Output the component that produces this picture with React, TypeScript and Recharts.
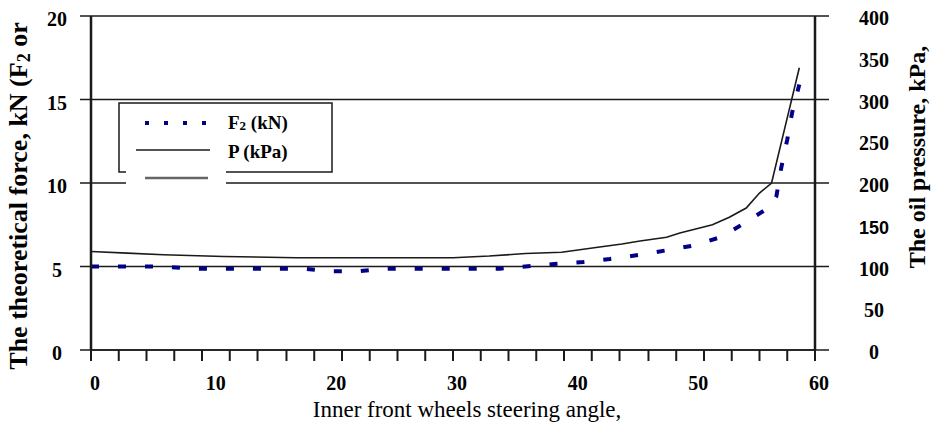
import React from 'react';
import { ComposedChart, Line, XAxis, YAxis, CartesianGrid, Legend } from 'recharts';

// Inner front wheel steering angle (deg) and theoretical force F2 (kN)
const f2Angle = [0, 6, 8.4, 17.5, 20, 22.3, 24.5, 33.9, 36, 38.4, 40.8, 43, 45.5, 47.7, 49.8, 52.3, 54.2, 56.3, 56.8, 57.2, 57.7, 58.1, 58.7];
const f2Force = [5.0, 5.0, 4.87, 4.87, 4.72, 4.72, 4.87, 4.87, 5.0, 5.15, 5.27, 5.45, 5.7, 5.97, 6.24, 6.78, 7.62, 8.58, 9.2, 10.9, 12.6, 14.2, 15.9];

// Steering angle (deg) and oil pressure P (kPa)
const pAngle = [0, 3, 6, 11, 17, 30, 33, 36, 39, 42, 44, 45.5, 47.7, 48.8, 51.5, 52.9, 54.3, 55.4, 56.4, 57.5, 58.7];
const pPressure = [118, 116, 114, 112, 110.5, 110.5, 112.5, 115.5, 117, 123, 127, 130.5, 135, 140, 150, 159, 170, 188, 200, 266, 338];

const xMinorTicks = [0, 2.3, 4.6, 6.9, 9.2, 11.5, 13.8, 16.2, 18.5, 20.8, 23.1, 25.4, 27.7, 30, 32.3, 34.6, 36.9, 39.2, 41.5, 43.8, 46.2, 48.5, 50.8, 53.1, 55.4, 57.7, 60];
const xLabelTicks = [0, 10, 20, 30, 40, 50, 60];
const leftTicks = [0, 5, 10, 15, 20];
const rightTicks = [0, 50, 100, 150, 200, 250, 300, 350, 400];
const rightMajorTicks = [0, 100, 200, 300, 400];

const f2Data = f2Angle.map((a, i) => ({ angle: a, f2: f2Force[i] }));
const pData = pAngle.map((a, i) => ({ angle: a, p: pPressure[i] }));
const xAllTicks = Array.from(new Set([...xMinorTicks, ...xLabelTicks])).sort((a, b) => a - b);

const SERIF = '"Liberation Serif", "Times New Roman", serif';
const SANS = '"Liberation Sans", Arial, sans-serif';
const INK = '#1a1a1a';
const NAVY = '#000088';

const XTick = (props: any) => {
  const { x, y, payload } = props;
  const v = payload.value;
  return (
    <g>
      {xMinorTicks.includes(v) && (
        <line x1={x} y1={y} x2={x} y2={y + 11} stroke={INK} strokeWidth={2} />
      )}
      {xLabelTicks.includes(v) && (
        <text x={x + 4} y={y + 40} textAnchor="middle" fontFamily={SERIF} fontWeight="bold" fontSize={20} fill="#000">
          {v}
        </text>
      )}
    </g>
  );
};

const LeftTick = (props: any) => {
  const { x, y, payload } = props;
  return (
    <g>
      <line x1={x - 11} y1={y} x2={x} y2={y} stroke={INK} strokeWidth={1.5} />
      <text x={57} y={y + 10} textAnchor="middle" fontFamily={SERIF} fontWeight="bold" fontSize={20} fill="#000">
        {payload.value}
      </text>
    </g>
  );
};

const RightTick = (props: any) => {
  const { x, y, payload } = props;
  const v = payload.value;
  return (
    <g>
      {rightMajorTicks.includes(v) && (
        <line x1={x} y1={y} x2={x + 14} y2={y} stroke={INK} strokeWidth={1.5} />
      )}
      <text x={874} y={y + 9} textAnchor="middle" fontFamily={v === 150 ? SANS : SERIF} fontWeight="bold" fontSize={v === 150 ? 18 : 20} fill="#000">
        {v}
      </text>
    </g>
  );
};

const LeftTitle = () => (
  <text transform="translate(27,196) rotate(-90)" textAnchor="middle" fontFamily={SERIF} fontWeight="bold" fontSize={26} fill="#000">
    The theoretical force, kN (F
    <tspan fontSize={18} dy={3}>2</tspan>
    <tspan dy={-3}> or</tspan>
  </text>
);

const RightTitle = () => (
  <text transform="translate(925,157) rotate(-90)" textAnchor="middle" fontFamily={SERIF} fontWeight="bold" fontSize={24} fill="#000">
    The oil pressure, kPa,
  </text>
);

const XTitle = () => (
  <text x={467} y={417} textAnchor="middle" fontFamily={SERIF} fontSize={23} fill="#000">
    Inner front wheels steering angle,
  </text>
);

const LegendBox = () => (
  <svg width={222} height={90} style={{ display: 'block' }}>
    <rect x={1} y={1} width={213} height={69} fill="#fff" stroke={INK} strokeWidth={1.5} />
    <rect x={8} y={68} width={100} height={20} fill="#fff" />
    <line x1={27} y1={21} x2={90} y2={21} stroke={NAVY} strokeWidth={4} strokeDasharray="4 15" />
    <line x1={18} y1={48} x2={92} y2={48} stroke={INK} strokeWidth={1.5} />
    <line x1={27} y1={76} x2={90} y2={76} stroke="#666" strokeWidth={2.5} />
    <text x={110} y={27} fontFamily={SERIF} fontWeight="bold" fontSize={19} fill="#000">
      F<tspan fontSize={13} dy={1}>2</tspan>
      <tspan dy={-1}> (kN)</tspan>
    </text>
    <text x={110} y={56} fontFamily={SERIF} fontWeight="bold" fontSize={19} fill="#000">
      P (kPa)
    </text>
  </svg>
);

export default function App() {
  return (
    <div style={{ position: 'absolute', left: 0, top: 0, width: 931, height: 426, background: '#fff' }}>
      <ComposedChart width={931} height={426} margin={{ top: 16, right: 0, bottom: 0, left: 0 }}>
        <CartesianGrid yAxisId="left" vertical={false} stroke={INK} strokeWidth={1.5} />
        <XAxis
          dataKey="angle"
          type="number"
          domain={[0, 60]}
          ticks={xAllTicks}
          interval={0}
          height={76}
          tickSize={0}
          tickMargin={0}
          tick={<XTick />}
          axisLine={{ stroke: INK, strokeWidth: 1.5 }}
          label={<XTitle />}
        />
        <YAxis
          yAxisId="left"
          domain={[0, 20]}
          ticks={leftTicks}
          interval={0}
          width={91}
          tickSize={0}
          tickMargin={0}
          tick={<LeftTick />}
          axisLine={{ stroke: INK, strokeWidth: 2.5 }}
          label={<LeftTitle />}
        />
        <YAxis
          yAxisId="right"
          orientation="right"
          domain={[0, 400]}
          ticks={rightTicks}
          interval={0}
          width={116}
          tickSize={0}
          tickMargin={0}
          tick={<RightTick />}
          axisLine={{ stroke: INK, strokeWidth: 2.5 }}
          label={<RightTitle />}
        />
        <Legend
          layout="vertical"
          align="center"
          verticalAlign="middle"
          content={() => <LegendBox />}
          wrapperStyle={{ position: 'absolute', left: 118, top: 102, width: 222, height: 90 }}
        />
        <Line
          yAxisId="right"
          data={pData}
          dataKey="p"
          name="P (kPa)"
          type="linear"
          stroke={INK}
          strokeWidth={1.6}
          dot={false}
          activeDot={false}
          isAnimationActive={false}
        />
        <Line
          yAxisId="left"
          data={f2Data}
          dataKey="f2"
          name="F2 (kN)"
          type="linear"
          stroke={NAVY}
          strokeWidth={4}
          strokeDasharray="8 19"
          dot={false}
          activeDot={false}
          isAnimationActive={false}
        />
      </ComposedChart>
    </div>
  );
}
